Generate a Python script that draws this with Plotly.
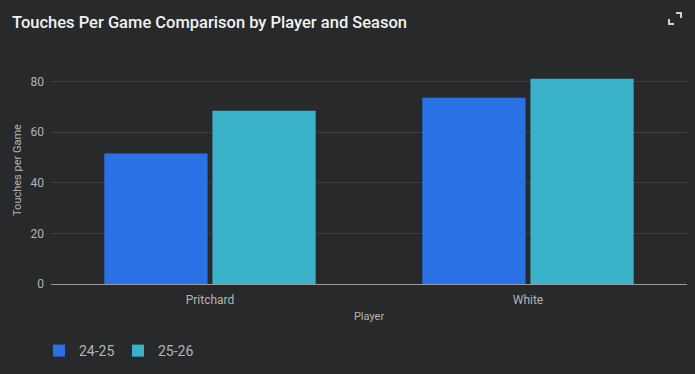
import plotly.graph_objects as go

players = ["Pritchard", "White"]
season_a = "24-25"
season_b = "25-26"
touches_a = [51.5, 73.5]
touches_b = [68.4, 81.0]

BG = "#28292b"
GRID = "#3d3e41"
TXT = "#b4b4b4"

fig = go.Figure()
fig.add_trace(go.Bar(x=players, y=touches_a, name=season_a, marker_color="#2a71e5",
                     marker_line_width=0))
fig.add_trace(go.Bar(x=players, y=touches_b, name=season_b, marker_color="#3ab2c9",
                     marker_line_width=0))

W, H = 695, 374
ml, mr, mt, mb = 51, 8, 56, 90
PW = W - ml - mr
PH = H - mt - mb

fig.update_layout(
    width=W, height=H,
    margin=dict(l=ml, r=mr, t=mt, b=mb, autoexpand=False),
    paper_bgcolor=BG, plot_bgcolor=BG,
    font=dict(family="Roboto, Noto Sans, sans-serif", color=TXT, size=12),
    title=dict(text="Touches Per Game Comparison by Player and Season",
               x=12 / W, xanchor="left", y=1 - 22 / H, yanchor="middle",
               font=dict(size=16.5, color="#f1f1f1", family="Roboto, sans-serif", weight=500)),
    barmode="group", bargap=0.32, bargroupgap=0.045,
    showlegend=True,
    legend=dict(orientation="h", x=-12 / PW, xanchor="left", y=-67 / PH, yanchor="middle",
                font=dict(size=14, color=TXT), bgcolor="rgba(0,0,0,0)",
                entrywidth=34, entrywidthmode="pixels"),
    xaxis=dict(title=dict(text="Player", font=dict(size=11, color=TXT), standoff=5),
               showgrid=False, showline=True, linecolor="#9a9a9a", linewidth=1,
               ticks="", ticklabelstandoff=5, tickfont=dict(size=12, color=TXT), fixedrange=True),
    yaxis=dict(title=dict(text="Touches per Game", font=dict(size=11, color=TXT), standoff=6),
               range=[0, 90], tickvals=[0, 20, 40, 60, 80], gridcolor=GRID, gridwidth=1,
               zeroline=False, showline=False, ticks="", ticklabelstandoff=6,
               tickfont=dict(size=12, color=TXT)),
)

# expand icon in top-right corner (pixel positions converted to plot-area fractions)
def px(x):
    return (x - ml) / PW
def py(y):
    return (H - mb - y) / PH
for pts in ([(676, 13), (681, 13), (681, 18)],
            [(669, 19), (669, 24), (674, 24)]):
    path = "M {} {} L {} {} L {} {}".format(px(pts[0][0]), py(pts[0][1]), px(pts[1][0]), py(pts[1][1]),
                                           px(pts[2][0]), py(pts[2][1]))
    fig.add_shape(type="path", path=path, xref="paper", yref="paper",
                  line=dict(color="#d0d0d0", width=2))

fig.write_html("out.html", config={"displayModeBar": False},
               post_script="document.body.style.margin='0';document.body.style.background='#28292b';")
